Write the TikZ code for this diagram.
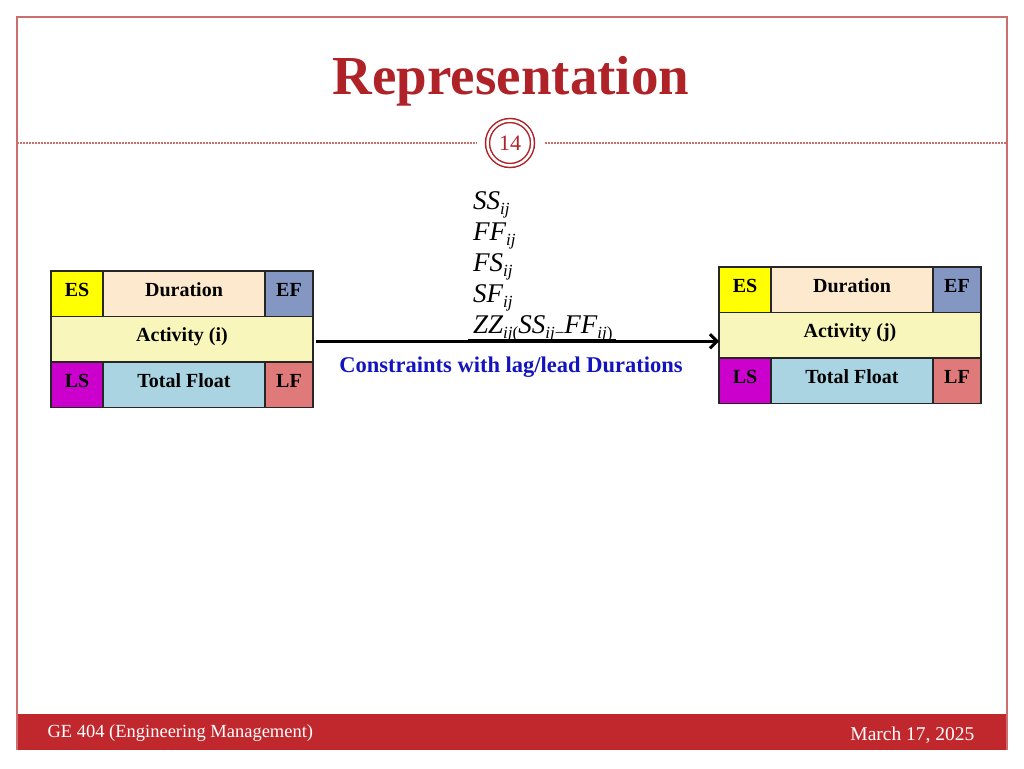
\documentclass[tikz,border=0pt]{standalone}
\usepackage{fontspec}
\setmainfont{Liberation Serif}
\usepackage{tikz}
\usetikzlibrary{arrows.meta, positioning, calc}

\definecolor{slidered}{RGB}{192,40,45}
\definecolor{titlered}{RGB}{175,35,40}
\definecolor{framered}{RGB}{205,110,110}
\definecolor{esyellow}{RGB}{255,255,0}
\definecolor{durpeach}{RGB}{253,234,206}
\definecolor{efblue}{RGB}{132,151,194}
\definecolor{actcream}{RGB}{248,246,186}
\definecolor{lsmagenta}{RGB}{204,0,204}
\definecolor{tfblue}{RGB}{170,212,225}
\definecolor{lfred}{RGB}{224,122,122}
\definecolor{lagblue}{RGB}{20,20,190}

\newcommand{\lagsub}[1]{\raisebox{-0.2em}{\fontsize{17}{17}\selectfont #1}}

\begin{document}
\begin{tikzpicture}[
    x=1pt, y=-1pt,
    cell/.style={draw=black!85, line width=1.3pt, inner sep=0pt, outer sep=0pt, minimum height=45.5pt, font=\fontsize{20}{24}\selectfont\bfseries, text height=14pt, text depth=9pt},
    lagtext/.style={inner sep=0pt, anchor=base west, font=\fontsize{27}{30}\selectfont\itshape},
    arrow/.style={-{Straight Barb[length=7pt, width=14pt]}, line width=3pt}
]
    \useasboundingbox (0,0) rectangle (1024,768);

    % Slide frame
    \fill[slidered] (17,714) rectangle (1007,750);
    \draw[framered, line width=1.2pt] (17,750) -- (17,17) -- (1007,17) -- (1007,750);
    \node[font=\fontsize{55}{60}\selectfont\bfseries, text=titlered, anchor=base] (title) at (511,94) {Representation};
    \node[circle, draw=titlered, double=white, double distance=2.5pt, line width=1.5pt, minimum size=45pt, inner sep=0pt, font=\fontsize{22}{22}\selectfont, text=titlered] (pagenum) at (510,143) {14};
    \draw[framered, line width=1.3pt, dash pattern=on 2pt off 1pt] (17,143) -- ([xshift=-10pt]pagenum.west);
    \draw[framered, line width=1.3pt, dash pattern=on 2pt off 1pt] ([xshift=12pt]pagenum.east) -- (1007,143);
    \node[font=\fontsize{18.5}{20}\selectfont, text=white, anchor=west] (course) at (44,733) {GE 404 (Engineering Management)};
    \node[font=\fontsize{19.5}{20}\selectfont, text=white, anchor=east] (date) at (978,735) {March 17, 2025};

    % Activity (i)
    \node[cell, fill=esyellow, minimum width=52pt, anchor=north west] (esi) at (51,271) {ES};
    \node[cell, fill=durpeach, minimum width=162pt, right=0pt of esi] (duri) {Duration};
    \node[cell, fill=efblue, minimum width=48pt, right=0pt of duri] (efi) {EF};
    \node[cell, fill=actcream, minimum width=262pt, below=0pt of esi.south west, anchor=north west] (acti) {Activity (i)};
    \node[cell, fill=lsmagenta, minimum width=52pt, below=0pt of acti.south west, anchor=north west] (lsi) {LS};
    \node[cell, fill=tfblue, minimum width=162pt, right=0pt of lsi] (tfi) {Total Float};
    \node[cell, fill=lfred, minimum width=48pt, right=0pt of tfi] (lfi) {LF};

    % Activity (j)
    \node[cell, fill=esyellow, minimum width=52pt, anchor=north west] (esj) at (719,267) {ES};
    \node[cell, fill=durpeach, minimum width=162pt, right=0pt of esj] (durj) {Duration};
    \node[cell, fill=efblue, minimum width=48pt, right=0pt of durj] (efj) {EF};
    \node[cell, fill=actcream, minimum width=262pt, below=0pt of esj.south west, anchor=north west] (actj) {Activity (j)};
    \node[cell, fill=lsmagenta, minimum width=52pt, below=0pt of actj.south west, anchor=north west] (lsj) {LS};
    \node[cell, fill=tfblue, minimum width=162pt, right=0pt of lsj] (tfj) {Total Float};
    \node[cell, fill=lfred, minimum width=48pt, right=0pt of tfj] (lfj) {LF};

    % Relationship types
    \node[lagtext] (ss) at (473,209) {SS\lagsub{ij}};
    \node[lagtext] (ff) at (473,240) {FF\lagsub{ij}};
    \node[lagtext] (fs) at (473,271) {FS\lagsub{ij}};
    \node[lagtext] (sf) at (473,302) {SF\lagsub{ij}};
    \node[lagtext] (zz) at (473,333) {ZZ\lagsub{ij\upshape(}SS\lagsub{ij\upshape−}FF\lagsub{ij\upshape)}};
    \draw[line width=0.8pt] ([xshift=-5pt, yshift=-6pt]zz.base west) -- ([xshift=3pt, yshift=-6pt]zz.base east);
    \node[font=\fontsize{22.5}{27}\selectfont\bfseries, text=lagblue, anchor=base] (lagnote) at (511,372) {Constraints with lag/lead Durations};

    % Arrow
    \draw[arrow] ([xshift=3pt, yshift=-2pt]acti.east) -- ([yshift=-6pt]actj.west);
\end{tikzpicture}
\end{document}
